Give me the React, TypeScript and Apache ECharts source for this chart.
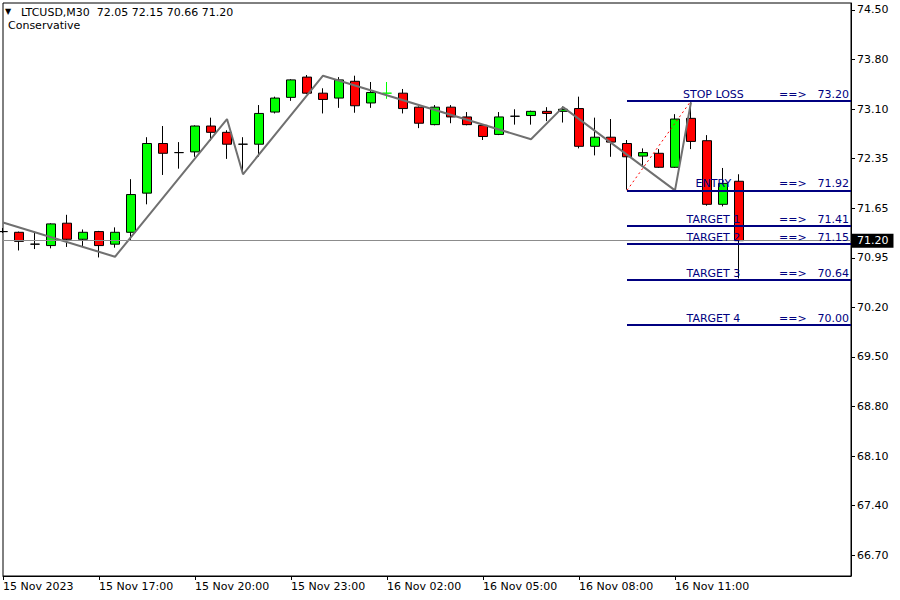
import React, { useEffect, useRef } from "react";
import * as echarts from "echarts";

const symbolName = "LTCUSD,M30";
const subTitle = "Conservative";

const categories = [
  "15 Nov 14:00", "15 Nov 14:30", "15 Nov 15:00", "15 Nov 15:30", "15 Nov 16:00", "15 Nov 16:30",
  "15 Nov 17:00", "15 Nov 17:30", "15 Nov 18:00", "15 Nov 18:30", "15 Nov 19:00", "15 Nov 19:30",
  "15 Nov 20:00", "15 Nov 20:30", "15 Nov 21:00", "15 Nov 21:30", "15 Nov 22:00", "15 Nov 22:30",
  "15 Nov 23:00", "15 Nov 23:30", "16 Nov 00:00", "16 Nov 00:30", "16 Nov 01:00", "16 Nov 01:30",
  "16 Nov 02:00", "16 Nov 02:30", "16 Nov 03:00", "16 Nov 03:30", "16 Nov 04:00", "16 Nov 04:30",
  "16 Nov 05:00", "16 Nov 05:30", "16 Nov 06:00", "16 Nov 06:30", "16 Nov 07:00", "16 Nov 07:30",
  "16 Nov 08:00", "16 Nov 08:30", "16 Nov 09:00", "16 Nov 09:30", "16 Nov 10:00", "16 Nov 10:30",
  "16 Nov 11:00", "16 Nov 11:30", "16 Nov 12:00", "16 Nov 12:30", "16 Nov 13:00", "16 Nov 13:30",
  "16 Nov 14:00", "16 Nov 14:30", "16 Nov 15:00", "16 Nov 15:30", "16 Nov 16:00", "16 Nov 16:30",
];

const xTickIndex = [0, 6, 12, 18, 24, 30, 36, 42];
const xTickLabels = [
  "15 Nov 2023", "15 Nov 17:00", "15 Nov 20:00", "15 Nov 23:00",
  "16 Nov 02:00", "16 Nov 05:00", "16 Nov 08:00", "16 Nov 11:00",
];
const yTickLabels = [
  "74.50", "73.80", "73.10", "72.35", "71.65", "70.95",
  "70.20", "69.50", "68.80", "68.10", "67.40", "66.70",
];

const opens = [
  71.33, 71.32, 71.15, 71.13, 71.45, 71.22, 71.33, 71.15, 71.32, 71.88,
  72.59, 72.46, 72.47, 72.84, 72.75, 72.58, 72.58, 73.04, 73.25, 73.54,
  73.31, 73.24, 73.48, 73.17, 73.31, 73.31, 73.11, 72.86, 73.11, 72.97,
  72.85, 72.72, 72.98, 72.99, 73.05, 73.05, 73.09, 72.55, 72.68, 72.59,
  72.41, 72.45, 72.25, 72.95, 72.63, 71.72, 72.05,
];
const highs = [
  71.38, 71.33, 71.33, 71.45, 71.57, 71.36, 71.34, 71.39, 72.08, 72.68,
  72.84, 72.61, 72.85, 72.96, 72.78, 72.68, 73.14, 73.26, 73.51, 73.57,
  73.38, 73.54, 73.56, 73.47, 73.47, 73.37, 73.12, 73.14, 73.14, 73.04,
  72.86, 73.04, 73.08, 73.06, 73.11, 73.12, 73.26, 72.96, 72.94, 72.64,
  72.52, 72.51, 73.01, 73.18, 72.71, 72.24, 72.15,
];
const lows = [
  71.31, 71.06, 71.08, 71.09, 71.11, 71.12, 70.96, 71.10, 71.21, 71.72,
  72.14, 72.23, 72.40, 72.63, 72.37, 72.16, 72.40, 73.02, 73.20, 73.30,
  73.02, 73.10, 73.03, 73.10, 73.23, 73.02, 72.81, 72.85, 72.88, 72.85,
  72.64, 72.71, 72.86, 72.86, 72.91, 72.89, 72.52, 72.42, 72.40, 71.93,
  72.27, 72.24, 72.24, 72.51, 71.70, 71.69, 70.66,
];
const closes = [
  71.33, 71.19, 71.15, 71.44, 71.22, 71.32, 71.13, 71.32, 71.86, 72.59,
  72.45, 72.46, 72.84, 72.75, 72.58, 72.58, 73.02, 73.24, 73.50, 73.31,
  73.22, 73.50, 73.13, 73.32, 73.31, 73.09, 72.88, 73.11, 72.97, 72.86,
  72.69, 72.97, 72.98, 73.05, 73.02, 73.08, 72.55, 72.68, 72.61, 72.40,
  72.46, 72.25, 72.94, 72.62, 71.72, 72.02, 71.20,
];
const greenDojiIndex = [24];

const zigzagIndex = [0, 7, 14, 15, 20, 33, 35, 42, 43];
const zigzagPrice = [71.46, 70.97, 72.94, 72.15, 73.56, 72.65, 73.11, 71.92, 73.18];

const dottedIndex = [39, 43];
const dottedPrice = [71.92, 73.2];

const levelNames = ["STOP LOSS", "ENTRY", "TARGET 1", "TARGET 2", "TARGET 3", "TARGET 4"];
const levelPrices = [73.2, 71.92, 71.41, 71.15, 70.64, 70.0];
const levelStartIndex = 39;

const currentPrice = 71.2;

const FONT = '"DejaVu Sans", sans-serif';

export default function App() {
  const ref = useRef<HTMLDivElement>(null);

  useEffect(() => {
    if (!ref.current) return;
    const chart = echarts.init(ref.current, null, { renderer: "svg" });

    const yTop = Number(yTickLabels[0]);
    const yBottom = Number(yTickLabels[yTickLabels.length - 1]);
    const step = (yTop - yBottom) / (yTickLabels.length - 1);
    const yTickValues = yTickLabels.map((_, i) => yTop - i * step);

    const candleData = opens.map((o, i) => {
      const v = [o, closes[i], lows[i], highs[i]];
      if (greenDojiIndex.includes(i)) {
        return {
          value: v,
          itemStyle: { borderColor: "#00ff00", borderColor0: "#00ff00", borderColorDoji: "#00ff00" },
        };
      }
      return v;
    });

    const zigzagData = zigzagIndex.map((k, i) => [k, zigzagPrice[i]]);
    const dottedData = dottedIndex.map((k, i) => [k, dottedPrice[i]]);
    const lastIdx = categories.length - 1;

    const showTick = (idx: number) => xTickIndex.includes(idx);

    const headerText = `${symbolName}  ${opens[opens.length - 1].toFixed(2)} ${highs[highs.length - 1].toFixed(2)} ${lows[lows.length - 1].toFixed(2)} ${closes[closes.length - 1].toFixed(2)}`;
    const headerGraphics = [
      {
        type: "text",
        x: 5,
        y: 11,
        style: { text: "▼", fill: "#000", font: `8px ${FONT}`, verticalAlign: "middle", align: "left" },
      },
      {
        type: "text",
        x: 21,
        y: 12,
        style: { text: headerText, fill: "#000", font: `11px ${FONT}`, verticalAlign: "middle", align: "left" },
      },
      {
        type: "text",
        x: 8,
        y: 25,
        style: { text: subTitle, fill: "#000", font: `11px ${FONT}`, verticalAlign: "middle", align: "left" },
      },
    ];

    chart.setOption({
      animation: false,
      backgroundColor: "#ffffff",
      grid: {
        left: 3,
        right: 49,
        top: 3,
        bottom: 24,
        show: true,
        borderColor: "#000",
        borderWidth: 1,
        backgroundColor: "#ffffff",
      },
      xAxis: {
        type: "category",
        data: categories,
        boundaryGap: false,
        axisLine: { show: true, lineStyle: { color: "#000", width: 1 } },
        axisTick: {
          show: true,
          interval: (idx: number) => showTick(idx),
          length: 4,
          lineStyle: { color: "#000" },
        },
        axisLabel: {
          interval: (idx: number) => showTick(idx),
          formatter: (_v: string, idx: number) => xTickLabels[xTickIndex.indexOf(idx)] ?? "",
          align: "left",
          color: "#000",
          fontFamily: FONT,
          fontSize: 11,
          margin: 5,
        },
        splitLine: { show: false },
      },
      yAxis: {
        type: "value",
        position: "right",
        min: 66.403,
        max: 74.6,
        splitLine: { show: false },
        axisLine: { show: true, lineStyle: { color: "#000", width: 1 } },
        axisTick: {
          show: true,
          customValues: yTickValues,
          length: 4,
          lineStyle: { color: "#000" },
        },
        axisLabel: {
          customValues: yTickValues,
          formatter: (v: number) => yTickLabels[Math.round((yTop - v) / step)] ?? "",
          color: "#000",
          fontFamily: FONT,
          fontSize: 11,
          margin: 6,
        },
      },
      series: [
        {
          type: "candlestick",
          data: candleData,
          barWidth: 10,
          clip: true,
          z: 2,
          itemStyle: {
            color: "#00ff00",
            color0: "#ff0000",
            borderColor: "#000000",
            borderColor0: "#000000",
            borderColorDoji: "#000000",
            borderWidth: 1,
          },
          markLine: {
            silent: true,
            symbol: ["none", "none"],
            lineStyle: { color: "#8c8c8c", width: 1, type: "solid" },
            label: {
              show: true,
              position: "end",
              distance: 1,
              formatter: currentPrice.toFixed(2),
              backgroundColor: "#000",
              color: "#fff",
              fontFamily: FONT,
              fontSize: 11,
              lineHeight: 12,
              padding: [1, 5, 1, 5],
            },
            data: [{ yAxis: currentPrice }],
          },
        },
        {
          type: "line",
          data: zigzagData,
          symbol: "none",
          clip: true,
          z: 3,
          lineStyle: { color: "#707070", width: 2 },
        },
        {
          type: "line",
          data: dottedData,
          symbol: "none",
          z: 3,
          lineStyle: { color: "#ff0000", width: 1, type: [2, 3] },
        },
        {
          type: "line",
          data: [],
          z: 4,
          markLine: {
            silent: true,
            symbol: ["none", "none"],
            label: { show: false },
            lineStyle: { color: "#000080", width: 2, type: "solid" },
            data: levelPrices.map((p) => [
              { coord: [levelStartIndex, p] },
              { coord: [lastIdx, p] },
            ]),
          },
        },
      ],
      graphic: headerGraphics,
    });

    const xPx = (k: number) => chart.convertToPixel({ xAxisIndex: 0 }, k) as number;
    const xAt = (f: number) => {
      const a = Math.floor(f);
      const pa = xPx(a);
      const pb = xPx(a + 1);
      return pa + (f - a) * (pb - pa);
    };
    const yPx = (p: number) => chart.convertToPixel({ yAxisIndex: 0 }, p) as number;

    const nameX = xAt(44.4);
    const arrowX = xAt(48.5);
    const valueX = xPx(lastIdx) - 2;

    const levelTexts: any[] = [];
    levelPrices.forEach((p, i) => {
      const y = yPx(p) - 1;
      levelTexts.push(
        {
          type: "text",
          x: nameX,
          y,
          z: 10,
          style: { text: levelNames[i], fill: "#000080", font: `11px ${FONT}`, align: "center", verticalAlign: "bottom" },
        },
        {
          type: "text",
          x: arrowX,
          y,
          z: 10,
          style: { text: "==>", fill: "#000080", font: `11px ${FONT}`, align: "left", verticalAlign: "bottom" },
        },
        {
          type: "text",
          x: valueX,
          y,
          z: 10,
          style: { text: p.toFixed(2), fill: "#000080", font: `11px ${FONT}`, align: "right", verticalAlign: "bottom" },
        }
      );
    });

    chart.setOption({ graphic: [...headerGraphics, ...levelTexts] });

    return () => chart.dispose();
  }, []);

  return <div ref={ref} style={{ width: 900, height: 600, position: "absolute", left: 0, top: 0 }} />;
}
